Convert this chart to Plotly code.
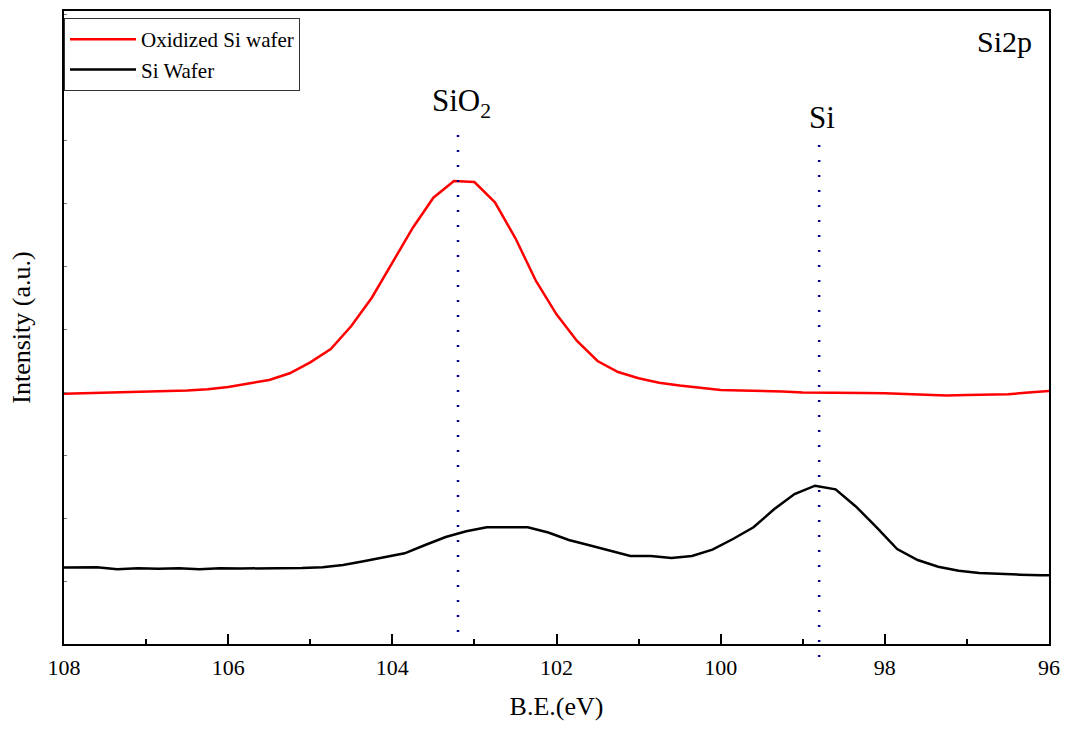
import plotly.graph_objects as go

# Si2p XPS spectra, binding energy (eV) vs intensity (a.u.)
be_oxidized = [108.0 - 0.25 * k for k in range(49)]
int_oxidized = [250.3, 250.8, 251.3, 251.7, 252.2, 252.6, 253.5, 254.7, 257.0, 260.5,
                264.0, 270.7, 281.7, 295.0, 318.0, 346.3, 380.7, 416.3, 446.3, 463.0,
                462.0, 441.7, 405.7, 363.0, 329.7, 303.0, 283.0, 272.0, 265.7, 261.3,
                258.5, 256.0, 254.0, 253.5, 253.2, 252.5, 251.5, 251.5, 251.5, 251.0,
                250.7, 250.0, 249.5, 248.5, 249.0, 249.0, 249.7, 251.5, 253.0]

be_wafer = [round(108.1 - 0.25 * k, 2) for k in range(50)]
int_wafer = [76.3, 76.5, 76.7, 74.7, 75.7, 75.3, 75.7, 74.7, 75.7, 75.5,
             75.5, 75.3, 76.0, 76.7, 79.0, 82.7, 87.0, 90.7, 99.0, 107.0,
             112.7, 116.7, 116.7, 116.7, 111.5, 104.0, 98.7, 93.3, 88.0, 88.0,
             86.0, 88.0, 94.3, 105.0, 116.7, 134.7, 150.0, 158.3, 154.7, 137.3,
             116.7, 95.0, 84.0, 77.3, 73.3, 71.0, 70.0, 69.3, 68.8, 68.5]

# Reference peak positions
peak_names = ["SiO<sub>2</sub>", "Si"]
peak_be = [103.2, 98.8]
peak_label_y = [1.0 - 92 / 633, 1.0 - 106 / 633]
peak_line_top = [1.0 - 124 / 633, 1.0 - 134 / 633]
peak_line_bottom = [0.0, -13 / 633]

FONT = "Liberation Serif"

fig = go.Figure()
fig.add_trace(go.Scatter(x=be_oxidized, y=int_oxidized, mode="lines",
                         name="Oxidized Si wafer",
                         line=dict(color="#FF0000", width=2.5)))
fig.add_trace(go.Scatter(x=be_wafer, y=int_wafer, mode="lines",
                         name="Si Wafer",
                         line=dict(color="#000000", width=2.5)))

for name, be, ly, top, bot in zip(peak_names, peak_be, peak_label_y,
                                  peak_line_top, peak_line_bottom):
    # dotted marker line, dash pattern anchored at the top end
    fig.add_shape(type="line", xref="x", yref="paper", x0=be, x1=be, y0=top, y1=bot,
                  line=dict(color="#000080", width=2.5, dash="2px,13px"))
    fig.add_annotation(x=be, y=ly, xref="x", yref="paper", text=name,
                       showarrow=False, yanchor="middle", xshift=3,
                       font=dict(family=FONT, size=31, color="black"))

fig.add_annotation(x=0.985, y=1.0 - 30 / 633, xref="paper", yref="paper",
                   text="Si2p", showarrow=False, xanchor="right", yanchor="middle",
                   font=dict(family=FONT, size=30, color="black"))

fig.update_layout(
    width=1069, height=729,
    margin=dict(l=64, r=20, t=11, b=85),
    plot_bgcolor="white", paper_bgcolor="white",
    font=dict(family=FONT, color="black"),
    showlegend=True,
    legend=dict(x=0.0, y=1.0 - 7 / 633, xanchor="left", yanchor="top",
                bgcolor="white", bordercolor="#333333", borderwidth=1,
                font=dict(family=FONT, size=21, color="black"),
                itemwidth=66, tracegroupgap=0),
    xaxis=dict(range=[108, 96], dtick=2, tick0=96, automargin=False,
               showgrid=False, zeroline=False,
               showline=True, linecolor="black", linewidth=2, mirror=True,
               ticks="inside", ticklen=10, tickwidth=1.5, tickcolor="black",
               minor=dict(ticks="inside", ticklen=5, tickwidth=1.5,
                          tickcolor="black", dtick=1),
               ticklabelstandoff=3,
               tickfont=dict(family=FONT, size=22, color="black"),
               title=dict(text="B.E.(eV)", standoff=17,
                          font=dict(family=FONT, size=26, color="black"))),
    yaxis=dict(range=[0, 633], showticklabels=False, automargin=False,
               showgrid=False, zeroline=False,
               showline=True, linecolor="black", linewidth=2, mirror=True,
               ticks="inside", ticklen=3, tickwidth=1, tickcolor="#777777",
               tick0=0, dtick=63,
               title=dict(text="Intensity (a.u.)", standoff=24,
                          font=dict(family=FONT, size=26, color="black"))),
)

fig.write_html("out.html")
